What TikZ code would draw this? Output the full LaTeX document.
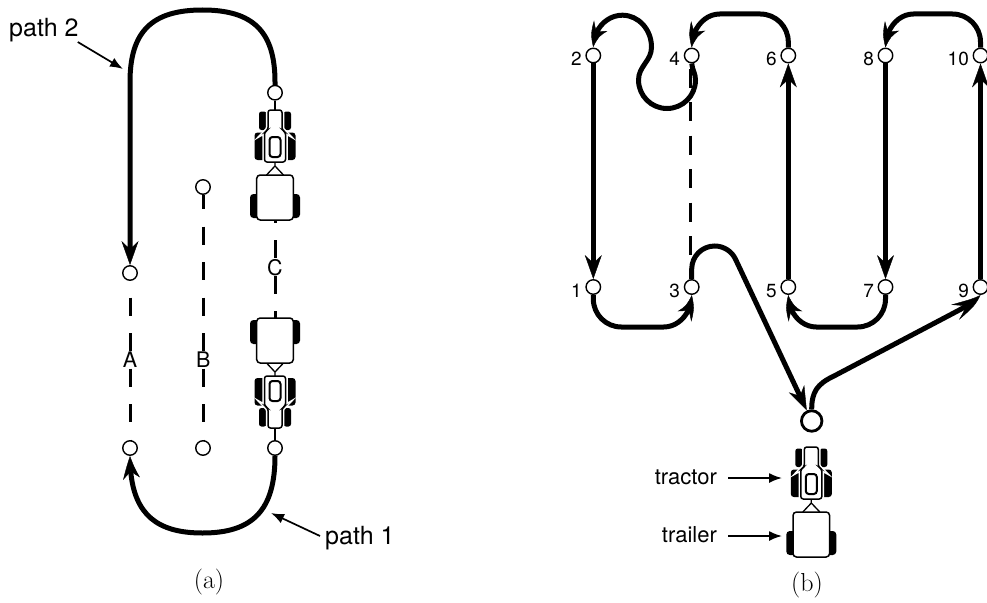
\documentclass[tikz,border=0pt]{standalone}
\usepackage{fontspec}
\newfontfamily\heros{TeX Gyre Heros}
\usetikzlibrary{arrows.meta,bending}

\tikzset{
  waypt/.style={circle, draw, fill=white, line width=1.4pt, minimum size=14.5pt, inner sep=0pt},
  origin/.style={circle, draw, fill=white, line width=2.8pt, minimum size=20.5pt, inner sep=0pt},
  route/.style={line width=5pt, -{Stealth[length=24pt,width=17pt,inset=8pt,line width=0.4pt,bend]}},
  track/.style={line width=3pt, dash pattern=on 18pt off 17.5pt},
  drawbar/.style={line width=2.2pt},
  pointer/.style={line width=1.7pt, -{Latex[length=13pt,width=10pt]}},
  pathlabel/.style={font=\heros\fontsize{25}{29}\selectfont, inner sep=0pt},
  sanslabel/.style={font=\heros\fontsize{22}{26}\selectfont, inner sep=0pt},
  lanelabel/.style={font=\heros\fontsize{21.5}{25}\selectfont, inner sep=0pt},
  numlabel/.style={font=\heros\fontsize{19}{22}\selectfont, inner sep=0pt, anchor=base east},
  caption/.style={font=\fontsize{26}{30}\selectfont, inner sep=0pt},
  rig/.pic={
    % front wheels
    \fill[rounded corners=2.5pt] (-16,-1.5) rectangle (-8.5,-20);
    \fill[rounded corners=2.5pt] (8.5,-1.5) rectangle (16,-20);
    % rear wheels
    \fill[rounded corners=3pt] (-20.5,-22.5) rectangle (-8,-50);
    \fill[rounded corners=3pt] (8,-22.5) rectangle (20.5,-50);
    % hood and cab
    \draw[line width=1.5pt, fill=white, rounded corners=2.5pt,
          preaction={draw=white, line width=4.5pt}]
      (-7,0) -- (7,0) -- (7,-20) -- (10.5,-22) -- (10.5,-52)
      -- (-10.5,-52) -- (-10.5,-22) -- (-7,-20) -- cycle;
    % cab window
    \draw[line width=2pt, fill=white, rounded corners=3pt] (-5.5,-27) rectangle (5.5,-47);
    % drawbar
    \draw[line width=1.3pt] (0,-52) -- (0,-56) (-8.5,-65) -- (0,-56) -- (8.5,-65);
    % trailer wheels
    \fill[rounded corners=3.5pt] (-25,-84) rectangle (-12,-108);
    \fill[rounded corners=3.5pt] (12,-84) rectangle (25,-108);
    % trailer bed
    \draw[line width=1.5pt, fill=white, rounded corners=3.5pt] (-18.3,-65) rectangle (18.3,-110);
    \coordinate (-front) at (0,0);
    \coordinate (-rear) at (0,-110);
  }
}

\begin{document}
\begin{tikzpicture}[x=1pt,y=1pt]
\useasboundingbox (0,0) rectangle (987,-602);

%% ---------- (a) three lanes, two turns ----------
\node[waypt] (aTop) at (130,-273) {};
\node[waypt] (aBot) at (130,-448) {};
\node[waypt] (bTop) at (203,-187) {};
\node[waypt] (bBot) at (203,-448) {};
\node[waypt] (cTop) at (275,-92.7) {};
\node[waypt] (cBot) at (275,-448) {};

\pic (rigUp) at (275,-110) {rig};
\pic[rotate=180] (rigDown) at (275,-428) {rig};

% lanes
\draw[track, dash phase=18.75pt] (aTop) -- (aBot);
\draw[track, dash phase=3.75pt] (bTop) -- (bBot);
\draw[track, dash phase=15.5pt] (rigUp-rear) -- (rigDown-rear);
\node[lanelabel] (labA) at (130,-359.5) {A};
\node[lanelabel] (labB) at (203.3,-359.5) {B};
\node[lanelabel] (labC) at (275,-267.5) {C};

% drawbars to the lane ends
\draw[drawbar] (cTop) -- (rigUp-front);
\draw[drawbar] (rigDown-front) -- (cBot);

% turn over the top
\draw[route] (cTop.north) -- (275,-82)
  .. controls (275,-31.6) and (253.25,-10) .. (202.5,-10)
  .. controls (151.75,-10) and (130,-31.6) .. (130,-82)
  -- (aTop.north);
% turn under the bottom
\draw[route] (cBot.south)
  .. controls (275,-510) and (253,-533) .. (202.5,-533)
  .. controls (152,-533) and (130,-510) .. (aBot.south);

% path labels
\node[pathlabel, anchor=base west] (p2lab) at (9,-37) {path 2};
\coordinate (p2tip) at (123,-69);
\draw[pointer] ([shift={(-1pt,-5pt)}]p2lab.base east) -- (p2tip);

\node[pathlabel, anchor=base west] (p1lab) at (325,-544) {path 1};
\coordinate (p1tip) at (271,-513);
\draw[pointer] ([shift={(-5pt,8pt)}]p1lab.base west) -- (p1tip);

\node[caption] (capA) at (209,-582.5) {(a)};

%% ---------- (b) field sequence ----------
\node[waypt] (n1) at (593.3,-287) {};
\node[waypt] (n2) at (593.3,-55.5) {};
\node[waypt] (n3) at (691.7,-287) {};
\node[waypt] (n4) at (691.7,-55.5) {};
\node[waypt] (n5) at (788.3,-287) {};
\node[waypt] (n6) at (788.3,-55.5) {};
\node[waypt] (n7) at (885.5,-287) {};
\node[waypt] (n8) at (885.5,-55.5) {};
\node[waypt] (n9) at (980.5,-287) {};
\node[waypt] (n10) at (980.5,-55.5) {};
\node[origin] (start) at (811.7,-421) {};

\foreach \n in {1,...,10}
  \node[numlabel] (lab\n) at ([shift={(-3.5pt,-10.5pt)}]n\n.west) {\n};

% lane between 4 and 3
\draw[track, dash pattern=on 19pt off 14.5pt, dash phase=28pt] (690,-63) -- (690,-279);

% leaving the start
\draw[route] (start.north) .. controls (811.7,-392) and (817,-384) .. (834,-376)
  -- (948,-316) .. controls (965,-307) and (975,-302) .. (n9.south);
\draw[route] (n9.north) -- (n10.south);
\draw[route] (n10.north) -- (980.5,-42) arc[start angle=0,end angle=90,radius=28]
  -- (913.5,-14) .. controls (898,-14) and (885.5,-29) .. (n8.north);
\draw[route] (n8.south) -- (n7.north);
\draw[route] (n7.south) -- (885.5,-299) arc[start angle=0,end angle=-90,radius=28]
  -- (816.3,-327) .. controls (800.8,-327) and (788.3,-312.5) .. (n5.south);
\draw[route] (n5.north) -- (n6.south);
\draw[route] (n6.north) -- (788.3,-42) arc[start angle=0,end angle=90,radius=28]
  -- (719.7,-14) .. controls (704.2,-14) and (691.7,-29) .. (n4.north);
% loop from 4 back to 2
\draw[route] (n4.south) to[out=-85,in=90] (695.5,-80)
  arc[start angle=0,end angle=-180,radius=28.5]
  to[out=90,in=-90] (651.5,-47.2)
  arc[start angle=0,end angle=180,x radius=29.1,y radius=32];
\draw[route] (n2.south) -- (n1.north);
\draw[route] (n1.south) -- (593.3,-299) arc[start angle=180,end angle=270,radius=28]
  -- (663.7,-327) .. controls (679.2,-327) and (691.7,-312.5) .. (n3.south);
% back to the start
\draw[route] (n3.north) -- (691.7,-269) arc[start angle=180,end angle=23.5,radius=23]
  -- (start);

% vehicle legend
\pic (rigB) at (811.3,-447) {rig};
\node[sanslabel, anchor=base east] (tracLab) at (717,-484) {tractor};
\coordinate (tracTip) at (782,-478);
\draw[pointer] ([shift={(11pt,6pt)}]tracLab.base east) -- (tracTip);
\node[sanslabel, anchor=base east] (trailLab) at (717,-542) {trailer};
\coordinate (trailTip) at (782,-536);
\draw[pointer] ([shift={(11pt,6pt)}]trailLab.base east) -- (trailTip);

\node[caption] (capB) at (807,-585) {(b)};
\end{tikzpicture}
\end{document}
